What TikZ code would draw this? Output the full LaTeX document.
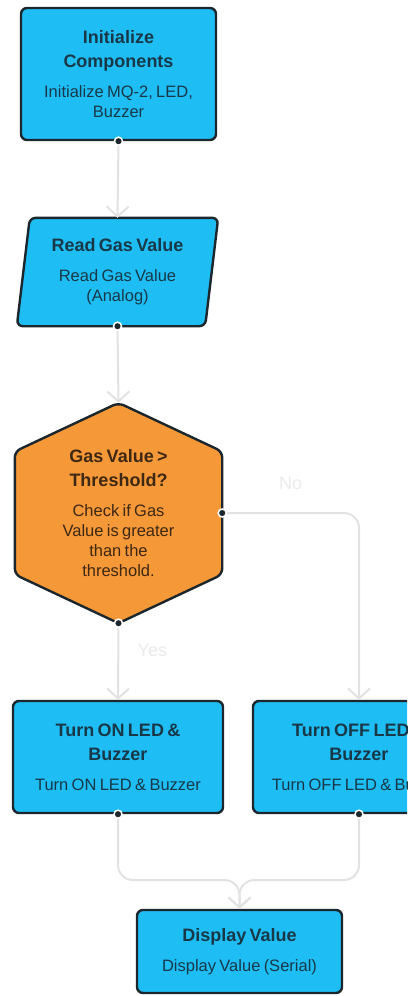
\documentclass[tikz,border=0pt]{standalone}
\usepackage{fontspec}
\setmainfont{Liberation Sans}
\usetikzlibrary{arrows.meta,backgrounds}

\definecolor{boxcyan}{RGB}{30,190,245}
\definecolor{hexorange}{RGB}{245,152,56}
\definecolor{edgedark}{RGB}{28,38,45}
\definecolor{textblue}{RGB}{24,56,72}
\definecolor{textbrown}{RGB}{62,40,20}
\definecolor{flowgrey}{RGB}{226,226,226}
\definecolor{labelgrey}{RGB}{234,234,234}

\newcommand{\stepText}[2]{{\fontsize{18}{24}\selectfont\bfseries #1\par}\vspace{10pt}{\fontsize{16.5}{20}\selectfont #2\par}}

\begin{document}
\begin{tikzpicture}[x=1pt, y=-1pt,
    stepbox/.style={draw=edgedark, line width=2.4pt, fill=boxcyan, rounded corners=6pt,
      text=textblue, align=center, inner sep=0pt},
    steptext/.style={align=center, inner sep=0pt},
    outline/.style={draw=edgedark, line width=2.4pt, rounded corners=6pt},
    flow/.style={draw=flowgrey, line width=2pt, -{Straight Barb[length=10pt,width=22pt]}},
    port/.style={circle, fill=edgedark, draw=white, line width=1.5pt, inner sep=0pt, minimum size=8pt},
    branch/.style={text=labelgrey, font=\fontsize{18}{20}\selectfont}]
  \useasboundingbox (0,0) rectangle (407,996);
  \clip (0,0) rectangle (407,996);

  % Steps
  \node[stepbox, minimum width=195, minimum height=132, text width=185] (init) at (118.5,74)
    {\stepText{Initialize\\Components}{Initialize MQ-2, LED,\\Buzzer}};
  \node[steptext, text=textblue, minimum width=188, minimum height=108, text width=180] (read) at (117.5,272)
    {\stepText{Read Gas Value}{Read Gas Value\\(Analog)}};
  \node[steptext, text=textbrown, minimum width=207, minimum height=220, text width=150] (dec) at (118.5,513)
    {\stepText{Gas Value >\\Threshold?}{Check if Gas\\Value is greater\\than the\\threshold.}};
  \node[stepbox, minimum width=210, minimum height=112, text width=204] (on) at (118,757)
    {\stepText{Turn ON LED \&\\Buzzer}{Turn ON LED \& Buzzer}};
  \node[stepbox, minimum width=212, minimum height=112, text width=204] (off) at (359,757)
    {\stepText{Turn OFF LED \&\\Buzzer}{Turn OFF LED \& Buzzer}};
  \node[stepbox, minimum width=205, minimum height=83, text width=199] (display) at (239.5,951.5)
    {\stepText{Display Value}{Display Value (Serial)}};

  % Input and decision outlines
  \begin{scope}[on background layer]
    \draw[outline, fill=boxcyan] ([xshift=6.5pt]read.north west) -- ([xshift=6.5pt]read.north east)
      -- ([xshift=-6.5pt]read.south east) -- ([xshift=-6.5pt]read.south west) -- cycle;
    \draw[outline, fill=hexorange] (dec.north) -- ([yshift=61.5pt]dec.west) -- ([yshift=-61.5pt]dec.west)
      -- (dec.south) -- ([yshift=-61.5pt]dec.east) -- ([yshift=61.5pt]dec.east) -- cycle;
  \end{scope}

  % Connectors
  \draw[flow] (init.south) -- (read.north);
  \draw[flow] (read.south) -- (dec.north);
  \draw[flow] (dec.south) -- node[branch, pos=0.35, xshift=34pt] (yes) {Yes} (on.north);
  \draw[flow, rounded corners=15pt] (dec.east) -| node[branch, pos=0.25, yshift=30pt] (no) {No} (off.north);
  \coordinate (join) at (display.north |- 0,880);
  \draw[flow, rounded corners=15pt] (on.south) |- (join) -- (display.north);
  \draw[flow, rounded corners=15pt] (off.south) |- (join) -- (display.north);

  % Ports
  \foreach \a [count=\i] in {init.south, read.south, dec.east, dec.south, on.south, off.south}
    \node[port] (port\i) at (\a) {};
\end{tikzpicture}
\end{document}
